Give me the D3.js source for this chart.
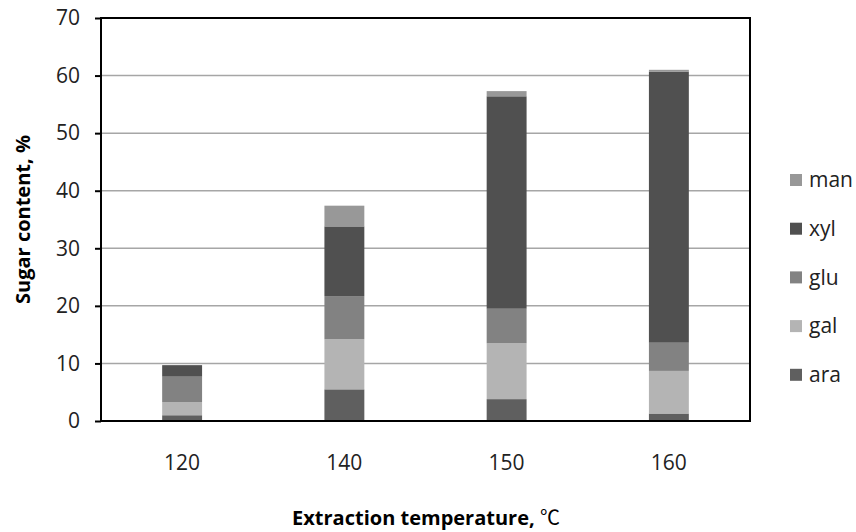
<!DOCTYPE html>
<html lang="en">
<head>
<meta charset="utf-8">
<title>Sugar content by extraction temperature</title>
<style>
  body { margin: 0; background: #fff; }
  .chart text { font-family: "Open Sans", "Noto Sans", sans-serif; fill: #000; }
  .axis .domain { display: none; }
  .axis .tick line { stroke: #000; stroke-width: 2; }
  .axis .tick text { font-size: 21px; fill: #222; }
  .grid line { stroke: #a6a6a6; stroke-width: 1.5; }
  .title { font-size: 20px; font-weight: bold; }
  .legend text { font-size: 21px; fill: #222; }
  .cjk { font-family: "Noto Sans CJK SC", sans-serif; font-weight: normal; }
</style>
</head>
<body>
<div class="graph"></div>
<script src="https://cdn.jsdelivr.net/npm/d3@7"></script>
<script>
// values (percent, stacked bottom to top)
var temps = ["120", "140", "150", "160"];
var ara = [1.0, 5.5, 3.8, 1.3];
var gal = [2.3, 8.7, 9.7, 7.4];
var glu = [4.4, 7.5, 6.0, 4.9];
var xyl = [2.0, 12.1, 36.9, 47.1];
var man = [0.0, 3.6, 0.9, 0.3];
var yTicks = [0, 10, 20, 30, 40, 50, 60, 70];

var keys = ["ara", "gal", "glu", "xyl", "man"];
var colors = { ara: "#5f5f5f", gal: "#b4b4b4", glu: "#828282", xyl: "#505050", man: "#989898" };

// build rows for d3.stack
var series = { ara: ara, gal: gal, glu: glu, xyl: xyl, man: man };
var rows = temps.map(function(t, i) {
  var r = { temp: t };
  keys.forEach(function(k) { r[k] = series[k][i]; });
  return r;
});

var W = 856, H = 532;
var margin = { top: 18, right: 106, bottom: 111, left: 101 };
var width = W - margin.left - margin.right,
    height = H - margin.top - margin.bottom;

var svg = d3.select(".graph").append("svg")
  .attr("class", "chart")
  .attr("width", W)
  .attr("height", H);

var g = svg.append("g").attr("transform", "translate(" + margin.left + "," + margin.top + ")");

var x = d3.scaleBand()
  .domain(temps)
  .range([0, width])
  .paddingInner(0.754)
  .paddingOuter(0.377);

var y = d3.scaleLinear()
  .domain([0, 70])
  .range([height, 0]);

// gridlines
g.append("g").attr("class", "grid")
  .selectAll("line")
  .data(yTicks.filter(function(d) { return d > 0 && d < 70; }))
  .join("line")
  .attr("x1", 0).attr("x2", width)
  .attr("y1", function(d) { return y(d); })
  .attr("y2", function(d) { return y(d); });

// stacked bars
var stacked = d3.stack().keys(keys)(rows);

g.append("g").selectAll("g")
  .data(stacked)
  .join("g")
  .attr("fill", function(d) { return colors[d.key]; })
  .selectAll("rect")
  .data(function(d) { return d; })
  .join("rect")
  .attr("x", function(d) { return x(d.data.temp); })
  .attr("y", function(d) { return y(d[1]); })
  .attr("width", x.bandwidth())
  .attr("height", function(d) { return y(d[0]) - y(d[1]); });

// plot frame
g.append("rect")
  .attr("x", 0).attr("y", 0)
  .attr("width", width).attr("height", height)
  .attr("fill", "none")
  .attr("stroke", "#000")
  .attr("stroke-width", 2);

// y axis
g.append("g").attr("class", "axis")
  .call(d3.axisLeft(y).tickValues(yTicks).tickSize(6).tickPadding(15));

// x axis labels
g.append("g").attr("class", "axis")
  .attr("transform", "translate(0," + height + ")")
  .call(d3.axisBottom(x).tickSize(0).tickPadding(34));

// axis titles
svg.append("text")
  .attr("class", "title")
  .attr("transform", "translate(30," + (margin.top + height / 2) + ") rotate(-90)")
  .attr("text-anchor", "middle")
  .text("Sugar content, %");

var xt = svg.append("text")
  .attr("class", "title")
  .attr("x", 426)
  .attr("y", 525)
  .attr("text-anchor", "middle");
xt.append("tspan").text("Extraction temperature, ");
xt.append("tspan").attr("class", "cjk").text("\u2103");

// legend, top to bottom: man, xyl, glu, gal, ara
var legend = svg.append("g").attr("class", "legend")
  .attr("transform", "translate(790,180)");

var item = legend.selectAll("g")
  .data(keys.slice().reverse())
  .join("g")
  .attr("transform", function(d, i) { return "translate(0," + (i * 48.7) + ")"; });

item.append("rect")
  .attr("x", 0).attr("y", -6)
  .attr("width", 12).attr("height", 12)
  .attr("fill", function(d) { return colors[d]; });

item.append("text")
  .attr("x", 19).attr("y", 0)
  .attr("dy", "0.35em")
  .text(function(d) { return d; });
</script>
</body>
</html>
